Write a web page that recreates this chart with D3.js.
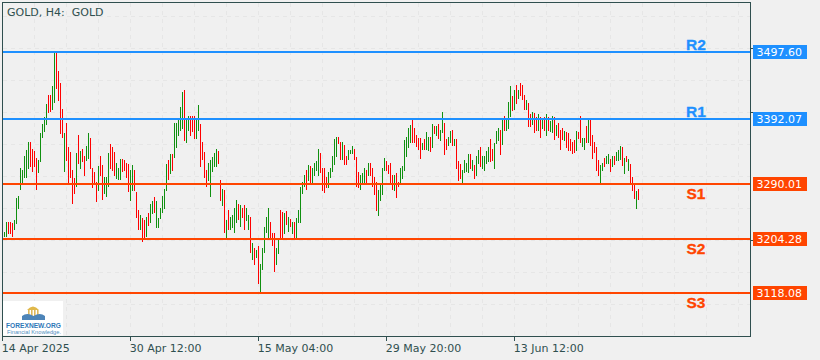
<!DOCTYPE html>
<html><head><meta charset="utf-8">
<script src="https://cdn.jsdelivr.net/npm/d3@7/dist/d3.min.js"></script>
<style>html,body{margin:0;padding:0;background:#f0f0f0;overflow:hidden}svg{display:block}</style>
</head><body><svg id="c" width="820" height="360"></svg>
<script>
const highs=[3214,3231,3230,3230,3228,3233,3268,3272,3316,3313,
3334,3343,3357,3356,3346,3342,3331,3328,3370,3384,
3395,3416,3430,3430,3444,3496,3496,3468,3449,3409,
3370,3386,3348,3340,3313,3299,3339,3367,3342,3345,
3335,3350,3370,3362,3315,3309,3293,3318,3335,3320,
3301,3302,3339,3353,3348,3340,3324,3315,3329,3329,
3328,3324,3321,3313,3320,3313,3277,3250,3242,3236,
3233,3239,3244,3258,3263,3269,3263,3236,3252,3272,
3282,3321,3328,3337,3337,3386,3386,3392,3411,3435,
3438,3391,3397,3397,3397,3397,3394,3414,3384,3357,
3340,3312,3323,3328,3332,3339,3346,3342,3296,3283,
3280,3233,3249,3238,3242,3253,3265,3258,3257,3253,
3257,3253,3242,3239,3198,3189,3187,3192,3164,3189,
3222,3239,3252,3230,3213,3213,3189,3203,3249,3246,
3244,3247,3239,3235,3230,3231,3236,3250,3285,3294,
3304,3313,3320,3318,3315,3324,3326,3345,3339,3315,
3315,3301,3309,3315,3334,3361,3364,3365,3356,3356,
3351,3335,3343,3343,3350,3346,3332,3309,3304,3307,
3315,3313,3323,3324,3316,3302,3294,3280,3290,3316,
3331,3326,3320,3323,3305,3305,3307,3294,3316,3318,
3359,3364,3379,3383,3391,3378,3367,3362,3362,3354,
3361,3372,3365,3364,3384,3381,3381,3384,3376,3403,
3387,3361,3364,3373,3375,3361,3361,3326,3321,3313,
3328,3323,3337,3337,3328,3320,3334,3343,3348,3334,
3335,3342,3348,3361,3345,3354,3373,3378,3375,3392,
3398,3391,3419,3444,3428,3438,3446,3439,3450,3446,
3430,3422,3417,3400,3403,3402,3395,3400,3395,3392,
3395,3400,3395,3389,3397,3395,3383,3387,3375,3378,
3373,3372,3370,3361,3356,3359,3373,3372,3397,3362,
3362,3381,3391,3391,3367,3357,3348,3328,3320,3324,
3331,3335,3337,3329,3334,3335,3340,3343,3350,3348,
3331,3335,3329,3321,3301,3288,3279,3282];
const lows=[3208,3208,3213,3213,3209,3219,3228,3253,3283,3291,
3301,3301,3316,3318,3310,3318,3282,3309,3326,3365,
3373,3384,3403,3405,3409,3419,3441,3422,3370,3365,
3310,3328,3290,3301,3260,3276,3287,3323,3315,3326,
3305,3328,3331,3315,3285,3290,3263,3280,3304,3266,
3276,3271,3287,3316,3312,3304,3299,3298,3298,3310,
3312,3301,3279,3265,3280,3280,3239,3219,3219,3200,
3205,3208,3225,3230,3244,3246,3222,3222,3236,3246,
3252,3280,3298,3307,3313,3332,3348,3368,3376,3379,
3359,3357,3375,3367,3373,3362,3362,3376,3318,3329,
3302,3287,3296,3272,3310,3318,3318,3323,3265,3257,
3214,3206,3220,3219,3222,3214,3230,3235,3224,3238,
3220,3233,3219,3183,3172,3165,3175,3134,3120,3157,
3183,3214,3205,3205,3194,3153,3164,3181,3203,3205,
3213,3227,3216,3224,3213,3205,3206,3230,3230,3276,
3287,3283,3296,3290,3293,3305,3313,3305,3309,3280,
3277,3285,3285,3302,3310,3321,3334,3354,3329,3329,
3321,3321,3329,3339,3339,3329,3287,3285,3283,3294,
3294,3291,3304,3304,3287,3274,3249,3242,3265,3274,
3312,3313,3307,3290,3283,3280,3269,3287,3293,3299,
3312,3334,3348,3356,3357,3357,3350,3346,3331,3345,
3346,3345,3343,3342,3348,3370,3368,3362,3359,3372,
3337,3346,3351,3356,3351,3351,3315,3296,3299,3291,
3309,3310,3309,3315,3312,3299,3304,3323,3318,3316,
3313,3323,3326,3326,3328,3316,3354,3359,3337,3353,
3376,3376,3378,3398,3406,3409,3417,3425,3430,3424,
3408,3409,3381,3381,3384,3372,3375,3376,3364,3379,
3376,3368,3375,3373,3372,3361,3367,3365,3345,3361,
3359,3348,3343,3343,3339,3340,3343,3362,3356,3350,
3345,3357,3356,3351,3331,3340,3313,3304,3293,3313,
3318,3324,3323,3310,3318,3321,3328,3328,3329,3320,
3307,3326,3312,3291,3280,3268,3253,3266];
const rising=[1,1,0,0,0,1,1,1,1,1,
1,1,1,0,0,0,0,1,1,1,
1,1,0,0,1,1,0,0,0,0,
1,0,0,0,0,0,1,0,1,0,
0,1,1,0,0,0,0,1,0,0,
1,1,1,0,0,0,1,1,1,0,
0,0,0,1,1,0,0,0,1,0,
0,1,0,1,1,0,1,1,1,1,
1,1,0,1,0,1,1,1,1,1,
0,1,1,0,0,0,1,1,0,0,
0,0,1,1,1,1,1,0,0,1,
0,1,0,1,1,1,1,0,1,0,
0,1,1,0,1,0,1,0,1,1,
1,1,1,0,0,0,1,1,0,0,
1,0,1,0,1,0,1,1,1,1,
1,0,1,0,1,1,1,1,0,0,
0,0,1,1,1,1,1,0,0,1,
0,0,1,1,1,0,0,0,1,1,
1,0,1,0,0,0,0,1,1,1,
1,0,0,0,0,1,0,0,1,1,
1,1,1,1,0,0,0,0,0,1,
0,1,1,0,1,0,1,0,1,1,
0,0,1,1,0,1,0,0,0,1,
1,1,1,0,1,0,1,1,0,1,
1,1,1,0,0,1,1,1,0,1,
0,1,1,1,0,1,0,1,0,0,
0,1,0,0,1,0,0,1,0,1,
0,1,0,1,1,0,1,0,0,0,
1,0,0,0,0,0,1,0,0,1,
1,0,1,0,0,0,0,0,1,1,
0,1,1,0,1,0,1,1,1,0,
1,0,1,0,0,0,1,0];
const levelNames=["R2","R1","S1","S2","S3"];
const levelValues=[3497.60,3392.07,3290.01,3204.28,3118.08];
const timeTickIndex=[-1,63,127,191,255];
const timeTickLabels=["14 Apr 2025","30 Apr 12:00","15 May 04:00","29 May 20:00","13 Jun 12:00"];

const W=820,H=360,FL=2.5,FR=750.5,FT=2.5,FB=336.5;
const UP="#109010",DOWN="#ff0000",BLUE="#1e90ff",ORANGE="#ff4500",FRAME="#2f4f4f",GRID="#e6e6e6";
const FONT="'DejaVu Sans',sans-serif";
const svg=d3.select("#c");
const x=d3.scaleLinear().domain([0,317]).range([4.5,638.5]);
const y=d3.scaleLinear().domain([3497.6,3118.08]).range([52.3,293.3]);
const levelColor=n=>n[0]==="R"?BLUE:ORANGE;

// grid
const gx=d3.range(FL+32,FR,32), gy=d3.range(304,FT,-32);
const grid=svg.append("g").attr("stroke",GRID).attr("stroke-dasharray","4,4").attr("shape-rendering","crispEdges");
grid.selectAll(".v").data(gx).join("line").attr("x1",d=>d).attr("x2",d=>d).attr("y1",FT).attr("y2",FB);
grid.selectAll(".h").data(gy).join("line").attr("x1",FL).attr("x2",FR).attr("y1",d=>d+.5).attr("y2",d=>d+.5);

// bars
svg.append("g").attr("shape-rendering","crispEdges").selectAll("line").data(highs).join("line")
 .attr("x1",(d,i)=>x(i)).attr("x2",(d,i)=>x(i))
 .attr("y1",d=>Math.round(y(d))).attr("y2",(d,i)=>Math.round(y(lows[i]))+1)
 .attr("stroke",(d,i)=>rising[i]?UP:DOWN).attr("stroke-width",1);

// level lines
svg.append("g").attr("shape-rendering","crispEdges").selectAll("line").data(levelValues).join("line")
 .attr("x1",FL).attr("x2",FR).attr("y1",d=>Math.round(y(d))).attr("y2",d=>Math.round(y(d)))
 .attr("stroke",(d,i)=>levelColor(levelNames[i])).attr("stroke-width",2);

// frame
svg.append("rect").attr("x",FL).attr("y",FT).attr("width",FR-FL).attr("height",FB-FT)
 .attr("fill","none").attr("stroke",FRAME).attr("shape-rendering","crispEdges");

// right ticks
svg.append("g").attr("stroke",FRAME).attr("shape-rendering","crispEdges").selectAll("line").data([48,112,240])
 .join("line").attr("x1",FR).attr("x2",FR+4).attr("y1",d=>d+.5).attr("y2",d=>d+.5);

// level tags
const tag=svg.append("g").selectAll("g").data(levelValues).join("g")
 .attr("transform",d=>`translate(753,${Math.round(y(d))-7})`);
tag.append("rect").attr("width",54).attr("height",14).attr("fill",(d,i)=>levelColor(levelNames[i]));
tag.append("text").attr("x",3.5).attr("y",11).attr("fill","#fff").attr("font-family",FONT).attr("font-size",11)
 .text(d=>d.toFixed(2));

// level names
svg.append("g").selectAll("text").data(levelNames).join("text")
 .attr("x",696).attr("y",(d,i)=>Math.round(y(levelValues[i]))+(d[0]==="R"?-2:15))
 .attr("text-anchor","middle").attr("fill",levelColor).attr("font-family","'Liberation Sans',Arial,sans-serif")
 .attr("font-weight","bold").attr("font-size",15.5).attr("stroke",levelColor).attr("stroke-width",.3).text(d=>d);

// time axis
const axis=d3.axisBottom(x).offset(0).tickValues(timeTickIndex).tickFormat((d,i)=>timeTickLabels[i]).tickSize(4).tickSizeOuter(0);
const ga=svg.append("g").attr("transform",`translate(0,${FB})`).call(axis);
ga.select(".domain").remove();
ga.selectAll("line").attr("stroke",FRAME).attr("shape-rendering","crispEdges");
ga.selectAll("text").attr("text-anchor","start").attr("x",-0.7).attr("y",6).attr("dy","9.5")
 .attr("fill",FRAME).attr("font-family",FONT).attr("font-size",11);

// title
svg.append("text").attr("x",7).attr("y",16).attr("xml:space","preserve").style("white-space","pre")
 .attr("fill",FRAME).attr("font-family",FONT).attr("font-size",11).text("GOLD, H4:  GOLD");

// logo
const lg=svg.append("g");
lg.append("rect").attr("x",3).attr("y",301).attr("width",60).attr("height",34.5).attr("fill","#fff");
lg.append("path").attr("d","M27 310 Q33 303 39 310 Z").attr("fill","#e0b84a");
lg.selectAll(".col").data([28,31,34,37]).join("rect").attr("x",d=>d).attr("y",310).attr("width",1.6).attr("height",7).attr("fill","#dcb65a");
lg.append("path").attr("d","M22 320 L22 316 Q27 312 33.5 316 Q40 312 45 316 L45 320 Z").attr("fill","#4d84b8");
lg.append("text").attr("x",6).attr("y",327.5).attr("textLength",55).attr("lengthAdjust","spacingAndGlyphs")
 .attr("font-family","'Liberation Sans',sans-serif").attr("font-weight","bold").attr("font-size",7).attr("fill","#2f78b8").text("FOREXNEW.ORG");
lg.append("text").attr("x",7).attr("y",334).attr("textLength",54).attr("lengthAdjust","spacingAndGlyphs")
 .attr("font-family","'Liberation Sans',sans-serif").attr("font-size",5.2).attr("fill","#4f8fc0").text("Financial Knowledge.");
</script></body></html>
